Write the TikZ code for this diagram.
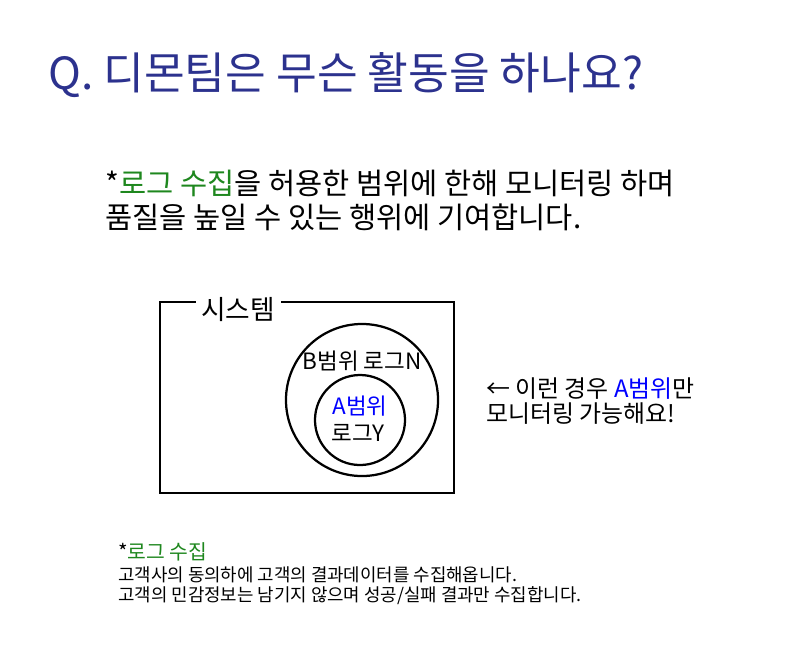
\documentclass[tikz,border=0pt]{standalone}
\usepackage{fontspec}
\setmainfont{Noto Sans CJK KR}
\usepackage{xcolor}
\usepackage{tikz}
\usetikzlibrary{positioning}
\definecolor{titlenavy}{RGB}{44,50,142}
\definecolor{loggreen}{RGB}{30,135,30}
\colorlet{scopeblue}{blue}

\begin{document}
\begin{tikzpicture}[x=0.025cm,y=-0.025cm,
  txt/.style={anchor=west,inner sep=0pt},
  frame/.style={line width=1.6pt},
  ring/.style={circle,draw,line width=1.6pt,inner sep=0pt}]
\useasboundingbox (0,0) rectangle (799,666);
% title
\node[txt,titlenavy,font=\fontsize{31.5}{36}\selectfont] (question) at (48,75) {Q. 디몬팀은 무슨 활동을 하나요?};
% answer
\node[txt,font=\fontsize{21}{25}\selectfont] (answer1) at (105,183) {*\textcolor{loggreen}{로그 수집}을 허용한 범위에 한해 모니터링 하며};
\node[txt,font=\fontsize{21}{25}\selectfont] (answer2) at (105,217) {품질을 높일 수 있는 행위에 기여합니다.};
% system box, title sits in a gap of the top line
\draw[frame] (160,302) rectangle (454,493);
\node[fill=white,inner sep=4pt,font=\fontsize{19}{22}\selectfont] (system) at (238,309) {시스템};
% scopes
\node[ring,minimum size=3.8cm] (bscope) at (362,400) {};
\node[ring,minimum size=2.25cm] (ascope) at (360,420) {};
\node[font=\fontsize{16}{19}\selectfont,inner sep=0pt] (blabel) at (362,361) {B범위 로그N};
\node[font=\fontsize{16}{19}\selectfont,inner sep=0pt,scopeblue] (alabel) at (360,406) {A범위};
\node[font=\fontsize{16}{19}\selectfont,inner sep=0pt] (ylabel) at (358,433) {로그Y};
% note beside the box
\node[txt,font=\fontsize{17}{20}\selectfont] (note1) at (486,389) {← 이런 경우 \textcolor{scopeblue}{A범위}만};
\node[txt,font=\fontsize{17}{20}\selectfont] (note2) at (486,414) {모니터링 가능해요!};
% footnote
\node[txt,font=\fontsize{14.5}{17}\selectfont] (foot0) at (118,552) {*\textcolor{loggreen}{로그 수집}};
\node[txt,font=\fontsize{12.7}{15}\selectfont] (foot1) at (118,575) {고객사의 동의하에 고객의 결과데이터를 수집해옵니다.};
\node[txt,font=\fontsize{12.7}{15}\selectfont] (foot2) at (118,596) {고객의 민감정보는 남기지 않으며 성공/실패 결과만 수집합니다.};
\end{tikzpicture}
\end{document}
